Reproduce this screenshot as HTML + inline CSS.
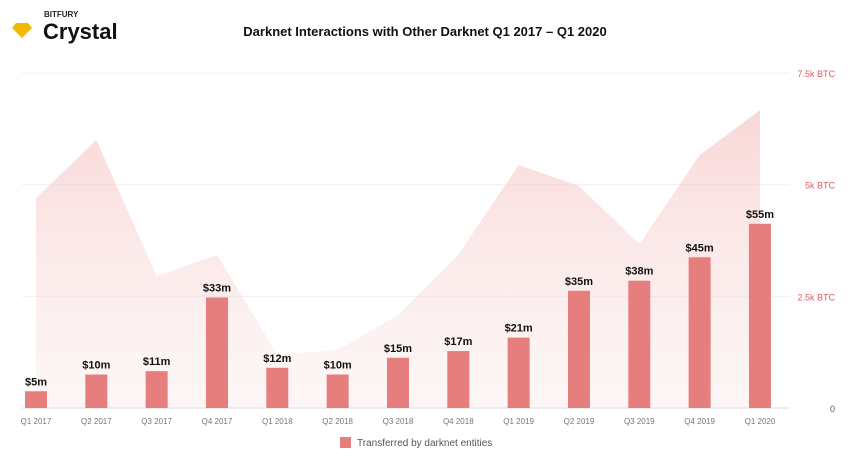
<!DOCTYPE html>
<html><head><meta charset="utf-8"><style>
body{margin:0;background:#fff;font-family:"Liberation Sans",sans-serif}
svg{display:block}
</style></head><body>
<svg id="c" width="850" height="465">
<defs><linearGradient id="g" x1="0" y1="0" x2="0" y2="1">
<stop offset="0" stop-color="#f4b8b8" stop-opacity="0.55"/><stop offset="1" stop-color="#f9dede" stop-opacity="0.25"/></linearGradient></defs>
<polygon points="12,28 16,23 28,23 32,28 22,38" fill="#f5b800"/>
<text x="44" y="17" font-size="8" font-weight="bold" fill="#222">BITFURY</text>
<text x="43" y="39" font-size="22" font-weight="bold" fill="#111">Crystal</text>
<text x="425" y="36" font-size="13" font-weight="bold" text-anchor="middle" fill="#111">Darknet Interactions with Other Darknet Q1 2017 – Q1 2020</text>
<g id="grid"></g><g id="area"></g><g id="bars"></g><g id="labels"></g>
<rect x="340" y="437" width="11" height="11" fill="#e77e7e"/>
<text x="357" y="446" font-size="10" fill="#555">Transferred by darknet entities</text>
</svg>
<script>
const categories=["Q1 2017","Q2 2017","Q3 2017","Q4 2017","Q1 2018","Q2 2018","Q3 2018","Q4 2018","Q1 2019","Q2 2019","Q3 2019","Q4 2019","Q1 2020"];
const usdValues=[5,10,11,33,12,10,15,17,21,35,38,45,55];
const btcValues=[4700,6000,2950,3430,1190,1300,2080,3430,5440,4970,3670,5660,6670];
const btcTicks=[0,2500,5000,7500];
const btcTickLabels=["0","2.5k BTC","5k BTC","7.5k BTC"];
const NS="http://www.w3.org/2000/svg";
const x0=36,step=60.33,yb=408,yt=73;
const X=i=>x0+i*step;
const Yb=v=>yb-(v/7500)*(yb-yt);
const Yu=v=>yb-(v/100)*(yb-yt);
function mk(t,a,p){const e=document.createElementNS(NS,t);for(const k in a)e.setAttribute(k,a[k]);p.appendChild(e);return e;}
const grid=document.getElementById('grid');
btcTicks.forEach((v,i)=>{
 const l=mk('line',{x1:22,x2:790,y1:Yb(v),y2:Yb(v),stroke:i==0?'#ddd':'#f0f0f0','stroke-width':1},grid);
 
 
 const t=mk('text',{x:835,y:Yb(v)+4,'font-size':9,'text-anchor':'end',fill:i==0?'#555':'#e05a5a'},grid);
 t.textContent=btcTickLabels[i];
 
 
});
let pts=X(0)+','+yb+' ';
btcValues.forEach((v,i)=>pts+=X(i)+','+Yb(v)+' ');
pts+=X(btcValues.length-1)+','+yb;
const ar=mk('polygon',{points:pts,fill:'url(#g)'},document.getElementById('area'));


const bars=document.getElementById('bars'),lab=document.getElementById('labels');
usdValues.forEach((v,i)=>{
 const r=mk('rect',{x:X(i)-11,y:Yu(v),width:22,height:yb-Yu(v),fill:'#e77e7e'},bars);
 
 
 const t=mk('text',{x:X(i),y:Yu(v)-6,'font-size':11,'font-weight':'bold','text-anchor':'middle',fill:'#111'},lab);
 t.textContent='$'+v+'m';
 
 
 const c=mk('text',{x:X(i),y:424,'font-size':8,'text-anchor':'middle',fill:'#777'},lab);
 c.textContent=categories[i];
 
 
});
</script>
</body></html>
